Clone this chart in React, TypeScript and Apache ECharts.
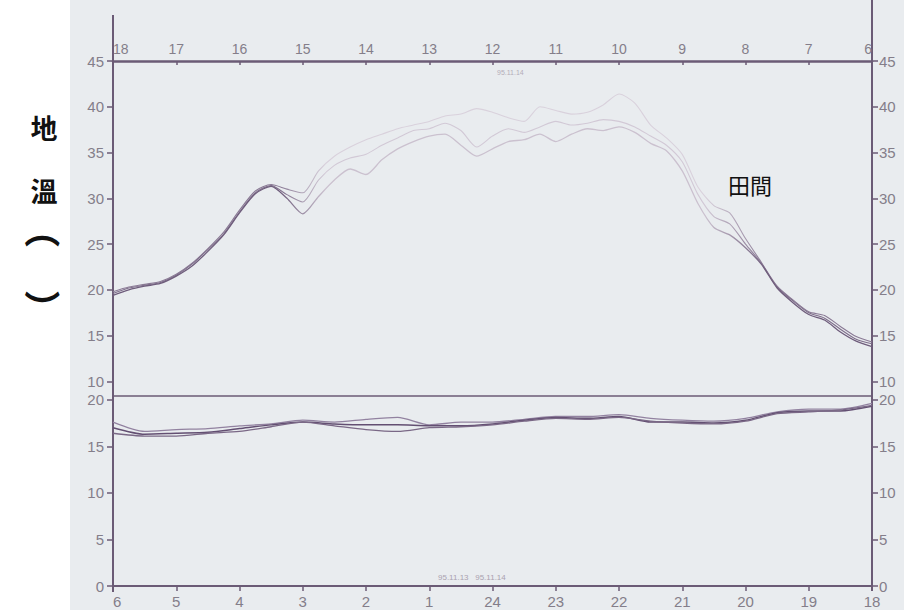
import { useEffect, useRef } from "react";
import * as echarts from "echarts";

// Daytime record (upper strip): hours run from 18 on the left to 6 on the right
const topHours = [
  18, 17.75, 17.5, 17.25, 17, 16.75, 16.5, 16.25, 16, 15.75, 15.5, 15.25, 15,
  14.75, 14.5, 14.25, 14, 13.75, 13.5, 13.25, 13, 12.75, 12.5, 12.25, 12,
  11.75, 11.5, 11.25, 11, 10.75, 10.5, 10.25, 10, 9.75, 9.5, 9.25, 9,
  8.75, 8.5, 8.25, 8, 7.75, 7.5, 7.25, 7, 6.75, 6.5, 6.25, 6,
];
const topTraceA = [
  19.4, 20.0, 20.4, 20.7, 21.5, 22.6, 24.2, 26.0, 28.4, 30.5, 31.3, 30.0, 28.3,
  30.2, 32.0, 33.2, 32.6, 34.2, 35.4, 36.2, 36.8, 37.0, 35.8, 34.6, 35.4,
  36.2, 36.4, 37.0, 36.2, 37.0, 37.6, 37.4, 37.8, 37.2, 36.0, 35.2, 33.0,
  29.4, 26.8, 26.0, 24.6, 22.8, 20.2, 18.6, 17.3, 16.7, 15.4, 14.4, 13.8,
];
const topTraceB = [
  19.6, 20.2, 20.5, 20.8, 21.6, 22.8, 24.4, 26.1, 28.5, 30.6, 31.4, 30.4, 29.6,
  32.0, 33.6, 34.4, 34.8, 35.8, 36.6, 37.4, 37.6, 38.2, 37.4, 35.6, 36.8,
  37.6, 37.2, 37.8, 38.4, 38.0, 38.2, 38.6, 38.4, 37.8, 36.8, 35.8, 34.0,
  30.4, 28.0, 27.2, 25.0, 22.9, 20.3, 18.8, 17.5, 16.9, 15.7, 14.6, 14.1,
];
const topTraceC = [
  19.8, 20.3, 20.6, 20.9, 21.7, 22.9, 24.5, 26.3, 28.7, 30.8, 31.5, 31.0, 30.6,
  33.0, 34.6, 35.6, 36.4, 37.0, 37.6, 38.0, 38.4, 39.0, 39.2, 39.8, 39.4,
  38.8, 38.4, 40.0, 39.6, 39.2, 39.4, 40.2, 41.4, 40.4, 38.0, 36.6, 34.8,
  31.2, 29.2, 28.4, 25.6, 23.0, 20.4, 18.9, 17.6, 17.2, 16.0, 14.9, 14.3,
];
const topTicks = [10, 15, 20, 25, 30, 35, 40, 45];

// Night record (lower strip): hour 30 is 6 o'clock of the next morning
const bottomHours = [
  30, 29.5, 29, 28.5, 28, 27.5, 27, 26.5, 26, 25.5, 25, 24.5, 24,
  23.5, 23, 22.5, 22, 21.5, 21, 20.5, 20, 19.5, 19, 18.5, 18,
];
const bottomTraceA = [
  17.6, 16.6, 16.8, 16.9, 17.2, 17.4, 17.8, 17.6, 17.9, 18.1, 17.3, 17.6, 17.6,
  17.9, 18.2, 18.2, 18.4, 18.0, 17.8, 17.7, 18.0, 18.7, 19.0, 19.0, 19.6,
];
const bottomTraceB = [
  17.0, 16.3, 16.4, 16.5, 16.9, 17.3, 17.6, 17.4, 17.3, 17.3, 17.2, 17.2, 17.4,
  17.8, 18.1, 18.0, 18.2, 17.6, 17.6, 17.5, 17.8, 18.6, 18.8, 18.8, 19.3,
];
const bottomTraceC = [
  16.4, 16.1, 16.1, 16.4, 16.6, 17.1, 17.6, 17.2, 16.8, 16.6, 17.0, 17.1, 17.3,
  17.7, 18.0, 17.9, 18.1, 17.7, 17.5, 17.4, 17.7, 18.5, 18.7, 18.9, 19.4,
];
const bottomTicks = [0, 5, 10, 15, 20];

// Vertical axis title; the brackets are turned a quarter to sit in the column
const yTitle = ["地", "溫", "（", "）"];
const siteLabel = "田間";

const AXIS = "#6b5b76";
const LABEL = "#847e8a";
const FONT = "'Liberation Sans', Arial, sans-serif";

const pairs = (xs: number[], ys: number[]) => xs.map((x, i) => [x, ys[i]]);

// Pen traces are heavy at both ends of the day and faint through the hot middle
const fade = (dark: string, light: string) =>
  new echarts.graphic.LinearGradient(0, 0, 1, 0, [
    { offset: 0, color: dark },
    { offset: 0.22, color: dark },
    { offset: 0.28, color: light },
    { offset: 0.78, color: light },
    { offset: 0.86, color: dark },
    { offset: 1, color: dark },
  ]);

export default function App() {
  const ref = useRef<HTMLDivElement>(null);

  useEffect(() => {
    document.body.style.margin = "0";
    const chart = echarts.init(ref.current!, null, { renderer: "svg" });

    const yCommon = (ticks: number[], min: number, max: number, gridIndex: number, position: "left" | "right") => ({
      type: "value" as const,
      gridIndex,
      position,
      min,
      max,
      axisLine: { show: true, onZero: false, lineStyle: { color: AXIS, width: 2 } },
      axisTick: { show: true, inside: false, length: 6, customValues: ticks, lineStyle: { color: AXIS, width: 1.5 } },
      axisLabel: {
        show: true,
        customValues: ticks,
        margin: position === "left" ? 9 : 7,
        color: LABEL,
        fontSize: 15,
        fontFamily: FONT,
      },
      splitLine: { show: false },
    });

    const traceLine = (
      data: number[][],
      xAxisIndex: number,
      yAxisIndex: number,
      color: any,
      width: number
    ) => ({
      type: "line" as const,
      xAxisIndex,
      yAxisIndex,
      data,
      showSymbol: false,
      smooth: 0.25,
      lineStyle: { color, width },
      silent: true,
    });

    chart.setOption({
      animation: false,
      backgroundColor: "transparent",
      grid: [
        { left: 113, top: 61, width: 759, height: 335 },
        { left: 113, top: 396, width: 759, height: 190 },
      ],
      xAxis: [
        {
          type: "value",
          gridIndex: 0,
          position: "top",
          min: 6,
          max: 18,
          interval: 1,
          inverse: true,
          axisLine: { onZero: false, lineStyle: { color: AXIS, width: 2.5 } },
          axisTick: { inside: true, length: 4, lineStyle: { color: AXIS, width: 1.5 } },
          axisLabel: {
            margin: 5,
            color: LABEL,
            fontSize: 14,
            fontFamily: FONT,
            alignMinLabel: "right",
            alignMaxLabel: "left",
          },
          splitLine: { show: false },
        },
        {
          type: "value",
          gridIndex: 1,
          position: "bottom",
          min: 18,
          max: 30,
          interval: 1,
          inverse: true,
          axisLine: { onZero: false, lineStyle: { color: AXIS, width: 2 } },
          axisTick: { inside: false, length: 5, lineStyle: { color: AXIS, width: 1.5 } },
          axisLabel: {
            margin: 8,
            color: LABEL,
            fontSize: 15,
            fontFamily: FONT,
            alignMaxLabel: "left",
            formatter: (v: number) => String(v > 24 ? v - 24 : v),
          },
          splitLine: { show: false },
        },
        {
          type: "value",
          gridIndex: 1,
          position: "top",
          min: 18,
          max: 30,
          inverse: true,
          axisLine: { onZero: false, lineStyle: { color: AXIS, width: 1.5 } },
          axisTick: { show: false },
          axisLabel: { show: false },
          splitLine: { show: false },
        },
      ],
      yAxis: [
        yCommon(topTicks, 8.4, 45, 0, "left"),
        yCommon(topTicks, 8.4, 45, 0, "right"),
        yCommon(bottomTicks, 0, 20.4, 1, "left"),
        yCommon(bottomTicks, 0, 20.4, 1, "right"),
      ],
      series: [
        traceLine(pairs(topHours, topTraceC), 0, 0, fade("#8a7a95", "#d9d1dc"), 1.1),
        traceLine(pairs(topHours, topTraceB), 0, 0, fade("#7f6e8b", "#d2c9d6"), 1.1),
        traceLine(pairs(topHours, topTraceA), 0, 0, fade("#6f5d7c", "#cbc1cf"), 1.3),
        traceLine(pairs(bottomHours, bottomTraceA), 1, 2, "#9282a0", 1.3),
        traceLine(pairs(bottomHours, bottomTraceB), 1, 2, "#634f72", 1.5),
        traceLine(pairs(bottomHours, bottomTraceC), 1, 2, "#7a6886", 1.3),
      ],
      graphic: [
        // axis frame running past the plotted ranges
        { type: "line", shape: { x1: 113, y1: 15, x2: 113, y2: 61 }, style: { stroke: AXIS, lineWidth: 2 }, silent: true },
        { type: "line", shape: { x1: 113, y1: 586, x2: 113, y2: 592 }, style: { stroke: AXIS, lineWidth: 2 }, silent: true },
        { type: "line", shape: { x1: 872, y1: 0, x2: 872, y2: 61 }, style: { stroke: AXIS, lineWidth: 2 }, silent: true },
        { type: "line", shape: { x1: 872, y1: 586, x2: 872, y2: 591 }, style: { stroke: AXIS, lineWidth: 2 }, silent: true },
        ...yTitle.map((ch, i) => ({
          type: "text",
          x: 44,
          y: [127, 190, 230, 308][i],
          rotation: i >= 2 ? -Math.PI / 2 : 0,
          silent: true,
          style: {
            text: ch,
            x: 0,
            y: 0,
            align: "center",
            verticalAlign: "middle",
            fill: "#111",
            fontSize: i >= 2 ? 36 : 27,
            fontWeight: "bold",
            fontFamily: "'Noto Sans CJK TC', 'Noto Sans CJK JP', sans-serif",
          },
        })),
        {
          type: "text",
          x: 728,
          y: 173,
          silent: true,
          style: {
            text: siteLabel,
            fill: "#111",
            fontSize: 22,
            fontFamily: "'Noto Sans CJK JP', 'Noto Sans CJK TC', sans-serif",
          },
        },
        {
          type: "text",
          x: 497,
          y: 69,
          silent: true,
          style: { text: "95.11.14", fill: "#b4acb9", fontSize: 7, fontFamily: FONT },
        },
        {
          type: "text",
          x: 438,
          y: 573,
          silent: true,
          style: { text: "95.11.13   95.11.14", fill: "#aaa2b0", fontSize: 8, fontFamily: FONT },
        },
      ],
    });

    return () => chart.dispose();
  }, []);

  return (
    <div
      ref={ref}
      style={{
        width: 904,
        height: 610,
        background: "linear-gradient(to right, #ffffff 70px, #e9ecef 70px)",
      }}
    />
  );
}
